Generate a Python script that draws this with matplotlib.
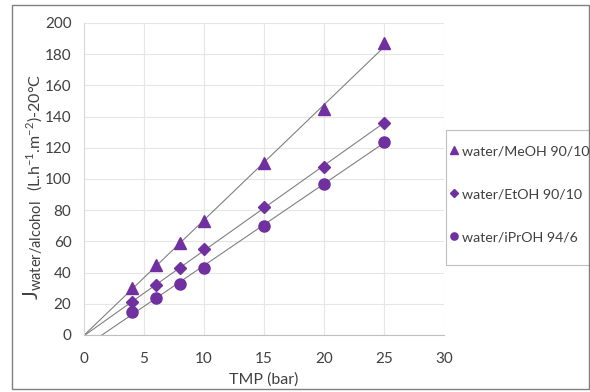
import numpy as np
import matplotlib
matplotlib.use('Agg')
import matplotlib.pyplot as plt
from matplotlib.patches import Rectangle

# 数据 (TMP in bar, flux)
tmp = [4, 6, 8, 10, 15, 20, 25]
meoh = [30, 45, 59, 73, 110, 145, 187]
etoh = [21, 32, 43, 55, 82, 108, 136]
iproh = [15, 24, 33, 43, 70, 97, 124]
labels = ['water/MeOH 90/10', 'water/EtOH 90/10', 'water/iPrOH 94/6']
markers = ['^', 'D', 'o']
msizes = [9, 6, 8]

purple = '#7030A0'
txt = '#404040'
plt.rcParams['font.family'] = ['Lato', 'DejaVu Sans']

fig = plt.figure(figsize=(5.9, 3.92), dpi=100)
ax = fig.add_axes([84/590, 57/392, 360/590, 312/392])

handles = []
for ys, m, ms, lab in zip([meoh, etoh, iproh], markers, msizes, labels):
    k, b = np.polyfit(tmp, ys, 1)
    x0 = max(0, -b / k)
    xx = np.array([x0, 25])
    ax.plot(xx, k * xx + b, color='#808080', lw=0.8, zorder=2)
    h, = ax.plot(tmp, ys, ls='none', marker=m, ms=ms, color=purple,
                 mec=purple, zorder=3, label=lab)
    handles.append(h)

ax.set_xlim(0, 30)
ax.set_ylim(0, 200)
ax.set_xticks(range(0, 31, 5))
ax.set_yticks(range(0, 201, 20))
ax.grid(True, color='#e6e6e6', lw=0.8)
ax.set_axisbelow(True)
for s in ['top', 'right']:
    ax.spines[s].set_visible(False)
ax.spines['left'].set_color('#d9d9d9')
ax.spines['bottom'].set_color('#bfbfbf')
ax.tick_params(axis='y', length=0, labelsize=11, colors=txt, pad=9)
ax.tick_params(axis='x', length=0, labelsize=11, colors=txt, pad=12)
ax.set_xlabel('TMP (bar)', fontsize=11.5, color=txt)
ax.xaxis.set_label_coords(0.5, -0.12)

# y label in two parts (big J + units)
fig.text(33/590, 1 - 300/392, r'J$_{\mathregular{water/alcohol}}$', fontsize=15,
         color=txt, rotation=90, rotation_mode='anchor', ha='left', va='center')
fig.text(35/590, 1 - 191/392,
         r'(L.h$^{\mathregular{-1}}$.m$^{\mathregular{-2}}$)-20°C', fontsize=11.5,
         color=txt, rotation=90, rotation_mode='anchor', ha='left', va='center')

# legend: frame drawn separately
fig.patches.append(Rectangle((446/590, 1 - 265/392), 150/590, 135/392,
                             transform=fig.transFigure, fill=False,
                             edgecolor='#bfbfbf', lw=0.8))
leg = fig.legend(handles=handles, loc='upper left',
                 bbox_to_anchor=(448/590, 1 - 145/392), frameon=False,
                 fontsize=10.2, handletextpad=0.1, handlelength=0.9,
                 labelspacing=2.2, borderpad=0, borderaxespad=0,
                 markerscale=0.65)
for t in leg.get_texts():
    t.set_color(txt)

fig.patches.append(Rectangle((12/590, 3/392), 577/590, 384/392,
                             transform=fig.transFigure, fill=False,
                             edgecolor='#808080', lw=1))

fig.savefig('out.png', dpi=100)
